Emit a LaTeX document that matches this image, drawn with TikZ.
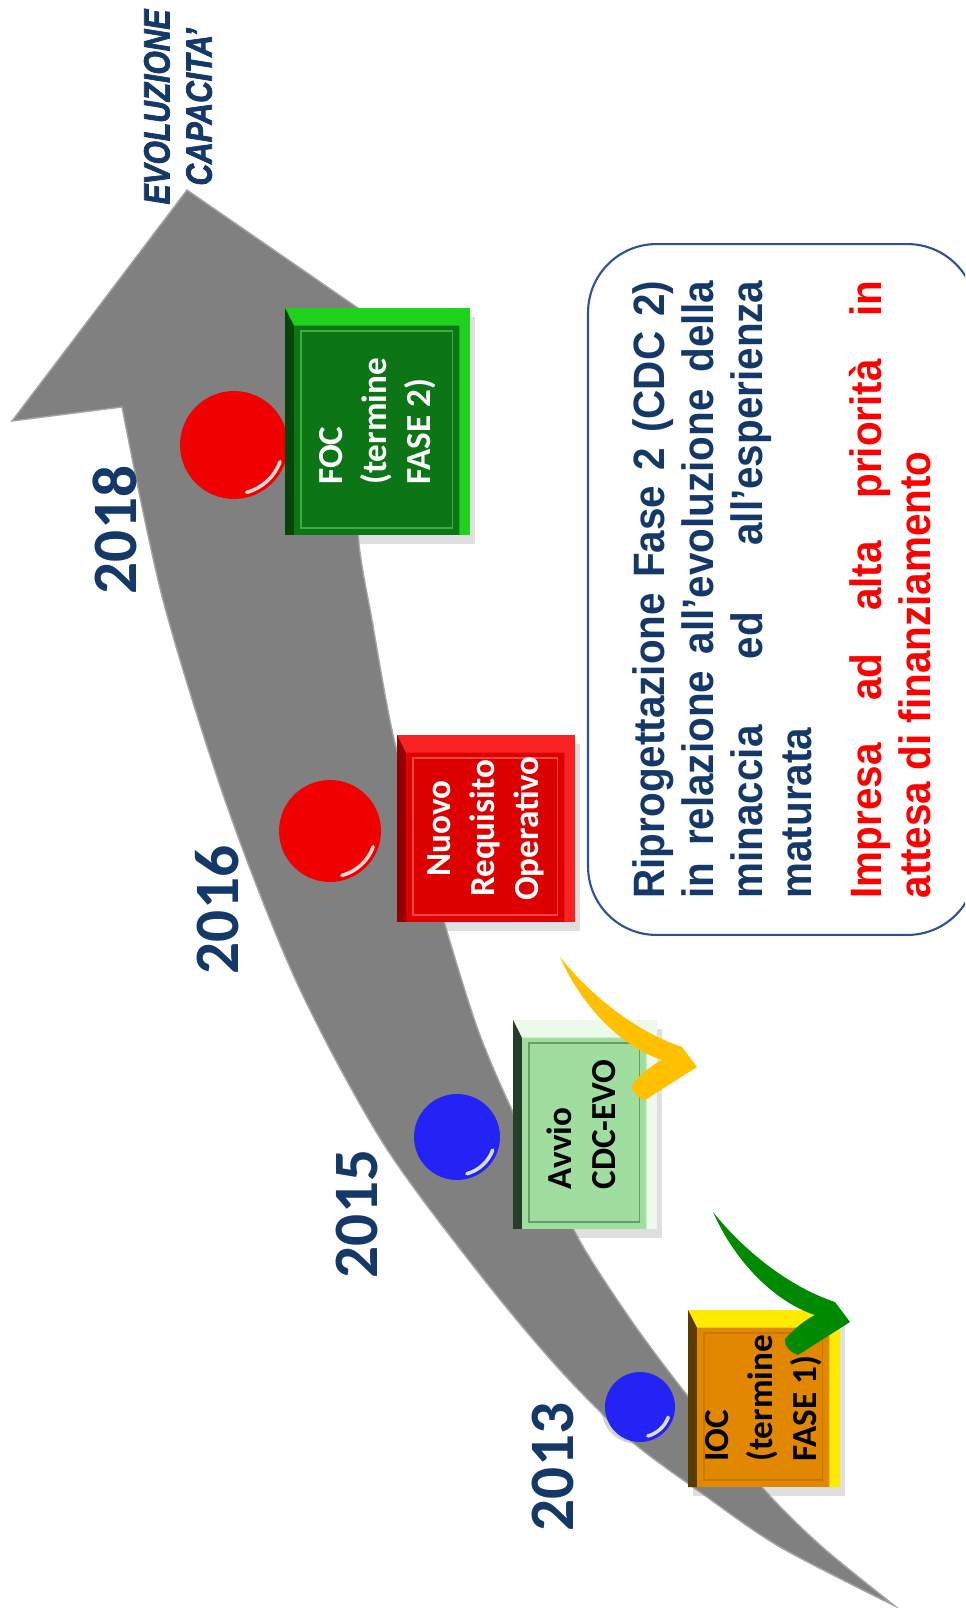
\documentclass[tikz,border=0pt]{standalone}
\usepackage{fontspec}
\setmainfont{Carlito}
\newfontfamily\notefont[FakeStretch=0.92]{Liberation Sans}
\newfontfamily\narrowfont[FakeStretch=0.82, FakeBold=2]{Liberation Sans}
\usetikzlibrary{shadows}

\definecolor{bandgray}{RGB}{128,128,128}
\definecolor{bandedge}{RGB}{165,165,165}
\definecolor{navy}{RGB}{20,56,104}
\definecolor{noteblue}{RGB}{47,82,150}
\definecolor{knobred}{RGB}{240,0,0}
\definecolor{knobblue}{RGB}{35,35,245}
\definecolor{focmain}{RGB}{12,118,22}
\definecolor{focbevel}{RGB}{30,210,30}
\definecolor{focdark}{RGB}{4,70,8}
\definecolor{focframe}{RGB}{60,175,60}
\definecolor{nromain}{RGB}{220,0,0}
\definecolor{nrobevel}{RGB}{250,35,35}
\definecolor{nrodark}{RGB}{150,0,0}
\definecolor{nroframe}{RGB}{245,70,70}
\definecolor{avvmain}{RGB}{160,222,160}
\definecolor{avvbevel}{RGB}{236,250,236}
\definecolor{avvdark}{RGB}{40,60,40}
\definecolor{avvframe}{RGB}{100,160,100}
\definecolor{iocmain}{RGB}{225,135,0}
\definecolor{iocbevel}{RGB}{255,235,0}
\definecolor{iocdark}{RGB}{90,60,0}
\definecolor{iocframe}{RGB}{200,120,0}
\definecolor{swyellow}{RGB}{255,192,0}
\definecolor{swgreen}{RGB}{0,138,0}

\tikzset{
  mbox/.style n args={4}{fill=#1, inner sep=0pt,
    font=\fontsize{20}{25}\selectfont\bfseries,
    drop shadow={shadow xshift=3pt, shadow yshift=-5pt, opacity=.25},
    path picture={
      \coordinate (nw) at (path picture bounding box.north west);
      \coordinate (ne) at (path picture bounding box.north east);
      \coordinate (sw) at (path picture bounding box.south west);
      \coordinate (se) at (path picture bounding box.south east);
      \fill[#2] (nw) -- (ne) -- (se) -- ([xshift=-6pt]se) -- ([xshift=-6pt,yshift=-10pt]ne) -- ([xshift=5pt,yshift=-10pt]nw) -- cycle;
      \fill[#3] (nw) -- ([xshift=5pt,yshift=-10pt]nw) -- ([xshift=5pt]sw) -- (sw) -- cycle;
      \draw[#4, line width=1pt] ([xshift=9pt,yshift=-13pt]nw) rectangle ([xshift=-10pt,yshift=4pt]se);
    }},
  knob/.style={circle, inner sep=0pt,
    drop shadow={shadow xshift=-2pt, shadow yshift=-1pt, opacity=.35}},
  glint/.style={white, line width=2pt, opacity=.85, line cap=round},
  yearlabel/.style={rotate=90, inner sep=0pt, text=navy,
    font=\fontsize{36}{40}\selectfont\bfseries},
  note/.style={draw=noteblue, line width=1.2pt, rounded corners=39pt, fill=white,
    rotate=90, text width=12.36cm, inner xsep=0.73cm, inner ysep=0pt,
    minimum height=7.76cm, align=justify,
    font=\notefont\bfseries\fontsize{25}{27.9}\selectfont},
}

\begin{document}
\begin{tikzpicture}[x=0.02cm, y=-0.02cm]
    \useasboundingbox (0,0) rectangle (965,1608);
    \clip (0,0) rectangle (965,1608);

    % Grey arrow
    \fill[bandgray, draw=bandedge, line width=0.8pt]
        (12,421) -- (187,190) -- (452,373) -- (350,384)
        -- plot[smooth] coordinates {(350,384) (358,535) (372,620) (392,730) (418,830) (445,925) (478,1030) (512,1110) (548,1180) (585,1250) (633,1323) (683,1390) (760,1485) (820,1545) (895,1606)}
        -- plot[smooth] coordinates {(895,1606) (780,1547) (700,1492) (630,1440) (560,1370) (482,1277) (383,1143) (297,983) (226,803) (163,600) (122,407)}
        -- cycle;

    % Milestones
    \foreach \nm/\px/\py/\r/\col in {c18/234/445/54/knobred, c16/330/831/51/knobred,
                                     c15/457/1137/43/knobblue, c13/640/1407/35/knobblue} {
        \node[knob, fill=\col, minimum size=\r*0.04cm] (\nm) at (\px,\py) {};
        \draw[glint] (\nm.center) ++(20:{\r-5}) arc[start angle=20, end angle=75, radius={\r-5}];
    }

    % Boxes
    \node[mbox={focmain}{focbevel}{focdark}{focframe}, minimum width=3.7cm, minimum height=4.54cm, text=white]
        (foc) at (377.5,421.5) {\rotatebox{90}{\begin{tabular}{@{}l@{}}FOC\\(termine\\FASE 2)\end{tabular}}};
    \node[mbox={nromain}{nrobevel}{nrodark}{nroframe}, minimum width=3.56cm, minimum height=3.74cm, text=white]
        (nro) at (486,828.5) {\rotatebox{90}{\begin{tabular}{@{}c@{}}Nuovo\\Requisito\\Operativo\end{tabular}}};
    \node[mbox={avvmain}{avvbevel}{avvdark}{avvframe}, minimum width=2.88cm, minimum height=4.18cm, text=black]
        (avv) at (585,1124.5) {\rotatebox{90}{\begin{tabular}{@{}l@{}}Avvio\\CDC-EVO\end{tabular}}};
    \node[mbox={iocmain}{iocbevel}{iocdark}{iocframe}, minimum width=3.04cm, minimum height=3.54cm, text=black]
        (ioc) at (764,1398.5) {\rotatebox{90}{\begin{tabular}{@{}l@{}}IOC\\(termine\\FASE 1)\end{tabular}}};

    % Check arrows
    \foreach \tx/\ty/\col in {697/1067/swyellow, 850/1322/swgreen} {
        \begin{scope}[shift={(\tx,\ty)}]
            \fill[\col] (-137,-110) .. controls (-105,-70) and (-60,-35) .. (-15,-20)
                -- (0,0) -- (-52,33) .. controls (-60,30) and (-66,24) .. (-65,17)
                .. controls (-55,6) and (-45,-2) .. (-35,-7)
                .. controls (-75,-20) and (-115,-60) .. (-137,-110) -- cycle;
        \end{scope}
    }

    % Years
    \foreach \yr/\px/\py in {2018/115/530, 2016/217/910, 2015/357/1214, 2013/553/1467}
        \node[yearlabel] (y\yr) at (\px,\py) {\yr};

    \node[rotate=90, align=center, inner sep=0pt, text=navy,
          font=\narrowfont\fontsize{20.8}{24}\selectfont\bfseries\itshape] (evo) at (178,107) {EVOLUZIONE\\CAPACITA’};

    % Note
    \node[note] (note) at (782,589.5) {\setlength\parindent{0pt}%
        {\color{navy}Riprogettazione Fase 2 (CDC 2)\linebreak in relazione all’evoluzione della\linebreak minaccia ed all’esperienza\linebreak maturata\par}
        \vspace{12pt}
        {\color{red}Impresa ad alta priorità in\linebreak attesa di finanziamento\par}};

\end{tikzpicture}
\end{document}
